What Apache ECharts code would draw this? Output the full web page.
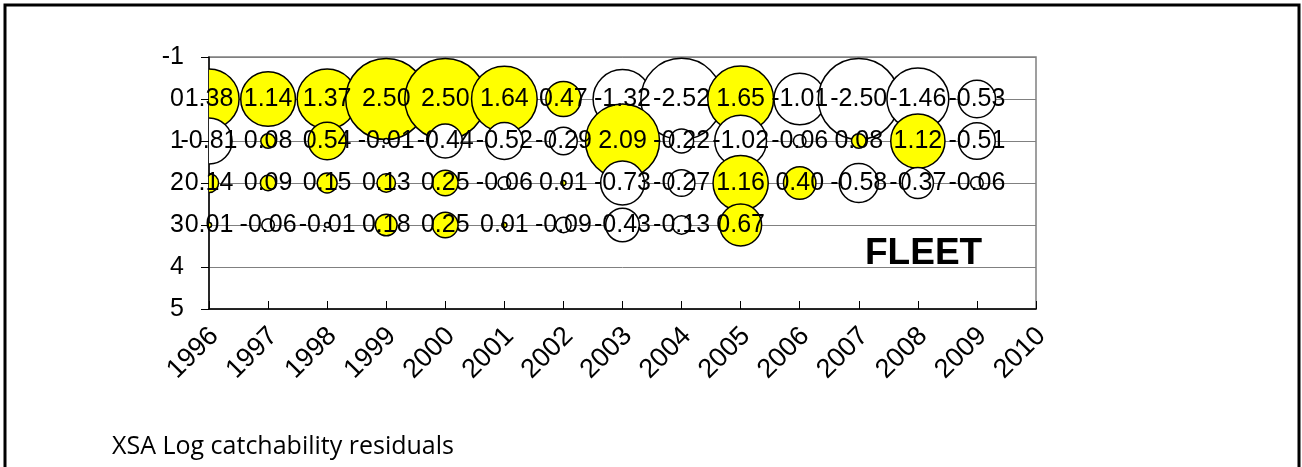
<!DOCTYPE html>
<html>
<head>
<meta charset="utf-8">
<style>
  html, body {
    margin: 0;
    padding: 0;
    width: 100%;
    height: 100%;
    overflow: hidden;
    background: #fff;
  }
</style>
<script src="https://cdn.jsdelivr.net/npm/echarts@6/dist/echarts.min.js"></script>
</head>
<body>
<div id="container" style="width: 1302px; height: 467px;"></div>
<script type="text/javascript">
  // years on the x axis, one row of residuals per age
  let years = [1996, 1997, 1998, 1999, 2000, 2001, 2002, 2003, 2004, 2005, 2006, 2007, 2008, 2009];
  let ages = [0, 1, 2, 3];
  let age0 = [1.38, 1.14, 1.37, 2.50, 2.50, 1.64, 0.47, -1.32, -2.52, 1.65, -1.01, -2.50, -1.46, -0.53];
  let age1 = [-0.81, 0.08, 0.54, -0.01, -0.44, -0.52, -0.29, 2.09, -0.22, -1.02, -0.06, 0.08, 1.12, -0.51];
  let age2 = [0.14, 0.09, 0.15, 0.13, 0.25, -0.06, 0.01, -0.73, -0.27, 1.16, 0.40, -0.58, -0.37, -0.06];
  let age3 = [0.01, -0.06, -0.01, 0.18, 0.25, 0.01, -0.09, -0.43, -0.13, 0.67];
  let xMin = 1996, xMax = 2010;
  let yMin = -1, yMax = 5;

  let rows = [age0, age1, age2, age3];
  let points = [];
  rows.forEach(function (row, a) {
    row.forEach(function (v, i) {
      points.push([years[i], ages[a], v]);
    });
  });

  var dom = document.getElementById('container');
  var myChart = echarts.init(dom, null, { renderer: 'canvas' });

  var font = "'Liberation Sans', Arial, sans-serif";

  // bubble diameter: area proportional to |residual|
  function bubbleSize(v) {
    return 81 * Math.sqrt(Math.abs(v) / 2.5);
  }

  var option = {
    animation: false,
    backgroundColor: '#fff',
    grid: {
      left: 209,
      top: 57,
      right: 266,
      bottom: 158,
      show: true,
      borderColor: '#808080',
      borderWidth: 1.5
    },
    xAxis: {
      type: 'value',
      min: xMin,
      max: xMax,
      interval: 1,
      axisLine: { onZero: false, lineStyle: { color: '#000', width: 1.5 } },
      axisTick: { inside: true, length: 8, lineStyle: { color: '#000', width: 1 } },
      splitLine: { show: false },
      axisLabel: {
        rotate: 45,
        margin: 9,
        verticalAlign: 'top',
        padding: [0, 6, 0, 0],
        fontSize: 27,
        fontFamily: font,
        color: '#000',
        formatter: function (v) { return String(v); }
      }
    },
    yAxis: {
      type: 'value',
      inverse: true,
      min: yMin,
      max: yMax,
      interval: 1,
      axisLine: { show: true, onZero: false, lineStyle: { color: '#000', width: 1.5 } },
      axisTick: { show: true, length: 8, lineStyle: { color: '#000', width: 1 } },
      splitLine: { show: true, lineStyle: { color: '#808080', width: 1 } },
      axisLabel: {
        margin: 25,
        fontSize: 25,
        fontFamily: font,
        color: '#000'
      }
    },
    series: [{
      name: 'residuals',
      type: 'custom',
      data: points,
      clip: true,
      z: 2,
      encode: { x: 0, y: 1 },
      renderItem: function (params, api) {
        var c = api.coord([api.value(0), api.value(1)]);
        var v = api.value(2);
        return {
          type: 'circle',
          shape: { cx: c[0], cy: c[1], r: bubbleSize(v) / 2 },
          style: {
            fill: v >= 0 ? '#ffff00' : '#ffffff',
            stroke: '#000',
            lineWidth: 1.5
          }
        };
      },
      silent: true
    }, {
      name: 'labels',
      type: 'scatter',
      data: points,
      z: 5,
      silent: true,
      symbolSize: 1,
      itemStyle: { color: 'transparent', opacity: 1 },
      label: {
        show: true,
        position: 'inside',
        color: '#000',
        opacity: 1,
        fontSize: 25,
        fontFamily: font,
        textBorderWidth: 0,
        textBorderColor: 'transparent',
        formatter: function (p) { return p.value[2].toFixed(2); }
      },
      emphasis: { disabled: true }
    }],
    graphic: [{
      type: 'rect',
      shape: { x: 5, y: 5, width: 1294, height: 480 },
      style: { fill: 'none', stroke: '#000', lineWidth: 3 },
      silent: true
    }, {
      type: 'text',
      left: 865,
      top: 235,
      style: {
        text: 'FLEET',
        font: "bold 37px 'Liberation Sans', Arial, sans-serif",
        fill: '#000'
      }
    }, {
      type: 'text',
      left: 112,
      top: 434,
      style: {
        text: 'XSA Log catchability residuals',
        font: "25px 'Open Sans', sans-serif",
        fill: '#000'
      }
    }]
  };

  myChart.setOption(option);
  window.addEventListener('resize', myChart.resize);
</script>
</body>
</html>
